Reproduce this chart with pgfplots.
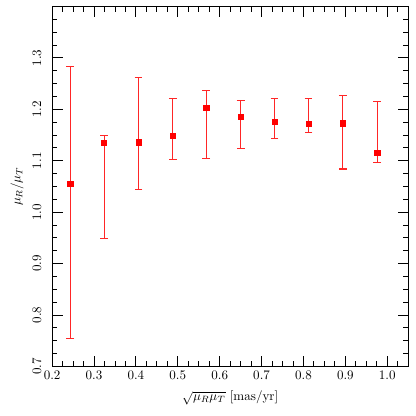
\documentclass[border=0pt]{standalone}
\usepackage{pgfplots}
\pgfplotsset{compat=1.18}
\begin{document}
\begin{tikzpicture}
\path (-40pt,-38pt) rectangle (279pt,281pt);
\begin{axis}[
  at={(0,0)}, anchor=south west,
  width=273pt, height=276pt, scale only axis,
  xmin=0.2, xmax=1.05, ymin=0.7, ymax=1.4,
  xtick={0.2,0.3,0.4,0.5,0.6,0.7,0.8,0.9,1.0},
  ytick={0.7,0.8,0.9,1.0,1.1,1.2,1.3},
  minor xtick={0.225,0.25,...,1.05},
  minor ytick={0.725,0.75,...,1.4},
  tick align=inside,
  major tick length=8pt, minor tick length=4pt,
  tick style={draw=black, line width=0.7pt},
  axis line style={line width=0.8pt},
  yticklabel shift=5pt,
  xlabel shift=2pt,
  xticklabel style={/pgf/number format/.cd, fixed, precision=1, zerofill},
  yticklabel style={rotate=90, /pgf/number format/.cd, fixed, precision=1, zerofill},
  xlabel={$\sqrt{\mu_R\mu_T}$ [mas/yr]},
  ylabel={$\mu_R/\mu_T$},
  clip=false,
]
\pgfplotsinvokeforeach{0.2,0.3,0.4,0.5,0.6,0.7,0.8,0.9,1.0}{
  \draw[black, line width=0.7pt] (axis cs:#1,0.7) -- ++(0pt,8pt);
  \draw[black, line width=0.7pt] (axis cs:#1,1.4) -- ++(0pt,-8pt);
}
\pgfplotsinvokeforeach{0.225,0.25,0.275,0.325,0.35,0.375,0.425,0.45,0.475,0.525,0.55,0.575,0.625,0.65,0.675,0.725,0.75,0.775,0.825,0.85,0.875,0.925,0.95,0.975,1.025}{
  \draw[black, line width=0.7pt] (axis cs:#1,0.7) -- ++(0pt,4pt);
  \draw[black, line width=0.7pt] (axis cs:#1,1.4) -- ++(0pt,-4pt);
}
\pgfplotsinvokeforeach{0.7,0.8,0.9,1.0,1.1,1.2,1.3}{
  \draw[black, line width=0.7pt] (axis cs:0.2,#1) -- ++(8pt,0pt);
  \draw[black, line width=0.7pt] (axis cs:1.05,#1) -- ++(-8pt,0pt);
}
\pgfplotsinvokeforeach{0.725,0.75,0.775,0.825,0.85,0.875,0.925,0.95,0.975,1.025,1.05,1.075,1.125,1.15,1.175,1.225,1.25,1.275,1.325,1.35,1.375}{
  \draw[black, line width=0.7pt] (axis cs:0.2,#1) -- ++(4pt,0pt);
  \draw[black, line width=0.7pt] (axis cs:1.05,#1) -- ++(-4pt,0pt);
}
\addplot+[only marks, red, mark=square*, mark size=2pt,
  mark options={fill=red, draw=red},
  error bars/.cd, y dir=both, y explicit,
  error bar style={red!85, line width=0.8pt},
  error mark options={rotate=90, mark size=3pt, red!85, line width=0.8pt}]
coordinates {
  (0.243, 1.0556) -= (0, 0.3006) += (0, 0.2274)
  (0.324, 1.1355) -= (0, 0.1875) += (0, 0.0142)
  (0.406, 1.136) -= (0, 0.092) += (0, 0.126)
  (0.488, 1.148) -= (0, 0.045) += (0, 0.074)
  (0.568, 1.203) -= (0, 0.098) += (0, 0.033)
  (0.650, 1.1854) -= (0, 0.0614) += (0, 0.0326)
  (0.731, 1.1764) -= (0, 0.0325) += (0, 0.0441)
  (0.812, 1.1718) -= (0, 0.0176) += (0, 0.05)
  (0.894, 1.173) -= (0, 0.089) += (0, 0.0547)
  (0.976, 1.116) -= (0, 0.0195) += (0, 0.0994)
};
\end{axis}
\end{tikzpicture}
\end{document}
